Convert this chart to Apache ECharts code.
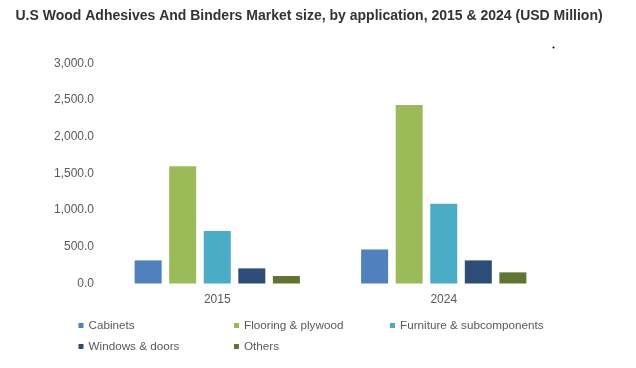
<!DOCTYPE html>
<html>
<head>
<meta charset="utf-8">
<script src="https://cdn.jsdelivr.net/npm/echarts@6/dist/echarts.min.js"></script>
<style>html,body{margin:0;padding:0;background:#fff}#c{width:636px;height:368px}</style>
</head>
<body>
<div id="c"></div>
<script>
var categories = ['2015', '2024'];
var seriesNames = ['Cabinets', 'Flooring & plywood', 'Furniture & subcomponents', 'Windows & doors', 'Others'];
var cabinets = [315, 464];
var flooring = [1600, 2435];
var furniture = [716, 1088];
var windows = [206, 315];
var others = [102, 152];
var yTicks = [0, 500, 1000, 1500, 2000, 2500, 3000];

var colors = ['#4F81BD', '#9BBB59', '#4BACC6', '#2C4D75', '#5F7530'];
var values = [cabinets, flooring, furniture, windows, others];
var legendPos = [[78.5, 319.5], [234, 319.5], [390, 319.5], [78.5, 340.5], [234, 340.5]];

var chart = echarts.init(document.getElementById('c'));
var font = 'Liberation Sans, Arial, sans-serif';
chart.setOption({
  animation: false,
  color: colors,
  title: {
    text: 'U.S Wood Adhesives And Binders Market size, by application, 2015 & 2024 (USD Million)',
    left: 10.5, top: 4.5,
    textStyle: {fontFamily: font, fontSize: 14, fontWeight: 'bold', color: '#333333'}
  },
  legend: seriesNames.map(function (n, i) {
    return {
      data: [n], left: legendPos[i][0], top: legendPos[i][1],
      itemWidth: 5, itemHeight: 5, icon: 'rect', padding: 0,
      textStyle: {fontFamily: font, fontSize: 11.7, color: '#595959'}
    };
  }),
  grid: {left: 104, right: 79, top: 63.5, bottom: 84.5},
  xAxis: {
    type: 'category', data: categories,
    axisLine: {show: false}, axisTick: {show: false},
    axisLabel: {fontFamily: font, fontSize: 12, color: '#595959', margin: 10}
  },
  yAxis: {
    type: 'value', min: yTicks[0], max: yTicks[yTicks.length - 1], interval: 500,
    splitLine: {show: false}, axisLine: {show: false}, axisTick: {show: false},
    axisLabel: {
      fontFamily: font, fontSize: 12, color: '#595959', margin: 10,
      formatter: function (v) { return v.toLocaleString('en-US', {minimumFractionDigits: 1, maximumFractionDigits: 1}); }
    }
  },
  series: seriesNames.map(function (n, i) {
    return {name: n, type: 'bar', data: values[i], barWidth: 27, barGap: '28%'};
  }),
  graphic: [{type: 'circle', shape: {cx: 553.5, cy: 47.5, r: 1}, style: {fill: '#000'}}]
});
</script>
</body>
</html>
